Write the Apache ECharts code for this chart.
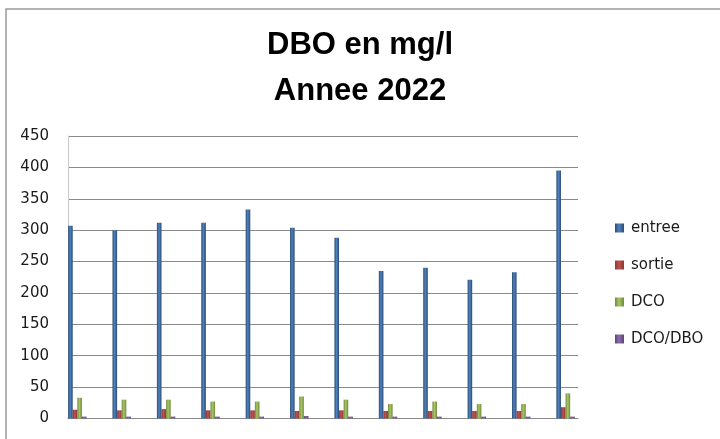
<!DOCTYPE html>
<html>
<head>
<meta charset="utf-8">
<script src="https://cdn.jsdelivr.net/npm/echarts@6/dist/echarts.min.js"></script>
<style>
  html, body { margin: 0; padding: 0; background: #fff; }
  #chart { width: 720px; height: 439px; }
</style>
</head>
<body>
<div id="chart"></div>
<script>
// mois 2022 (pas d'etiquettes affichees sur l'axe)
const mois = ['janv', 'fevr', 'mars', 'avr', 'mai', 'juin', 'juil', 'aout', 'sept', 'oct', 'nov', 'dec']
const entree = [307, 300, 312, 312, 333, 304, 288, 235, 240, 221, 233, 395]
const sortie = [14, 13, 15, 13, 13, 12, 13, 12, 12, 12, 12, 18]
const dco = [33, 30, 30, 27, 27, 35, 30, 23, 27, 23, 23, 40]
const dcoDbo = [3, 3, 3, 3, 3, 4, 3, 3, 3, 3, 3, 3]
const yTicks = [0, 50, 100, 150, 200, 250, 300, 350, 400, 450]

const couleurs = [
  ['#2b4c74', '#4f81bd'],
  ['#8c3836', '#c0504d'],
  ['#71893f', '#a5c663'],
  ['#5c4776', '#8a6cae']
]

function degrade(c) {
  return new echarts.graphic.LinearGradient(0, 0, 1, 0, [
    { offset: 0, color: c[0] },
    { offset: 0.45, color: c[1] },
    { offset: 1, color: c[0] }
  ])
}

function serie(name, values, idx) {
  return {
    name: name,
    type: 'bar',
    barWidth: 4.6,
    barGap: '0%',
    data: values.map((v, i) => [i, v]),
    itemStyle: { color: degrade(couleurs[idx]) }
  }
}

const myChart = echarts.init(document.getElementById('chart'))
const option = {
  animation: false,
  title: {
    text: 'DBO en mg/l\nAnnee 2022',
    left: 'center',
    top: 22,
    padding: [0, 0, 0, 10],
    textStyle: {
      fontFamily: 'Liberation Sans',
      fontWeight: 'bold',
      fontSize: 31,
      lineHeight: 46,
      color: '#000'
    }
  },
  graphic: [{
    type: 'rect',
    shape: { x: 6, y: 9, width: 800, height: 500 },
    style: { fill: 'none', stroke: '#9a9a9a', lineWidth: 1.5 },
    silent: true
  }],
  legend: {
    orient: 'vertical',
    left: 610,
    top: 215,
    itemWidth: 9,
    itemHeight: 9,
    itemGap: 21,
    icon: 'rect',
    textStyle: {
      fontFamily: 'DejaVu Sans',
      fontSize: 15,
      lineHeight: 16,
      color: '#1a1a1a',
      padding: [0, 0, 0, 2]
    },
    data: ['entree', 'sortie', 'DCO', 'DCO/DBO']
  },
  grid: {
    left: 68,
    right: 142,
    top: 136,
    bottom: 20.5,
    containLabel: false
  },
  xAxis: {
    type: 'value',
    min: -0.21,
    max: 11.28,
    axisLine: { show: true, onZero: false, lineStyle: { color: '#8a8a8a', width: 1.2 } },
    axisTick: { show: false },
    axisLabel: { show: false },
    splitLine: { show: false }
  },
  yAxis: {
    type: 'value',
    min: yTicks[0],
    max: yTicks[yTicks.length - 1],
    interval: 50,
    axisLine: { show: true, onZero: false, lineStyle: { color: '#c8c8c8' } },
    axisTick: { show: false },
    axisLabel: {
      margin: 19,
      fontFamily: 'DejaVu Sans',
      fontSize: 15,
      color: '#1a1a1a'
    },
    splitLine: { lineStyle: { color: '#8a8a8a', width: 1.2 } }
  },
  series: [
    serie('entree', entree, 0),
    serie('sortie', sortie, 1),
    serie('DCO', dco, 2),
    serie('DCO/DBO', dcoDbo, 3)
  ]
}
option && myChart.setOption(option)
</script>
</body>
</html>
